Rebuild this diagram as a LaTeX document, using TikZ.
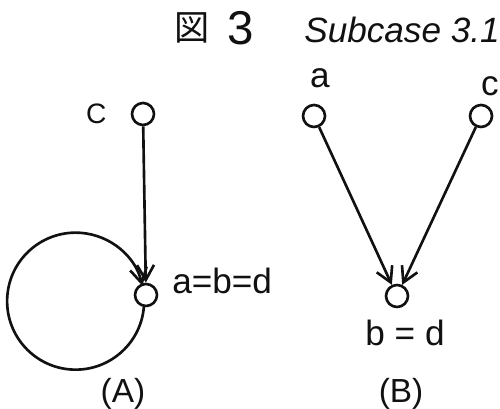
\documentclass[tikz,border=0pt]{standalone}
\usepackage{fontspec}
\setmainfont{Liberation Sans}
\newfontfamily\cjkfont{Noto Sans CJK JP}
\usepackage{tikz}
\usetikzlibrary{arrows.meta,positioning}
\definecolor{ink}{HTML}{111111}
\tikzset{
  vertex/.style={circle,draw=ink,line width=1.5pt,minimum size=0.44cm,
                 inner sep=0pt},
  arrowedge/.style={-{Straight Barb[length=3mm,width=3.4mm]},line width=1.5pt,
                    ink},
  lbl/.style={font=\fontsize{20}{22}\selectfont,text=ink,inner sep=0pt},
}

\begin{document}
\begin{tikzpicture}
  \useasboundingbox(0,0)rectangle(10,8.18);
  \node[lbl,font=\cjkfont\fontsize{20}{22}\selectfont](fig)at(3.84,7.62){図};
  \node[lbl,font=\fontsize{27}{29}\selectfont](num)at(4.82,7.62){3};
  \node[lbl,font=\itshape\fontsize{20}{22}\selectfont](sub)at(8.04,7.58)
    {Subcase 3.1};
  % (A)
  \node[vertex](cA)at(2.86,5.90){};
  \node[vertex](abd)at(2.92,2.28){};
  \node[lbl,font=\fontsize{16}{18}\selectfont,left=0.48cm of cA](lc){C};
  \node[lbl,anchor=west](leq)at(3.44,2.56){a=b=d};
  \draw[arrowedge](cA)--(abd);
  \draw[arrowedge](abd.-100)arc[start angle=-5,end angle=-347,radius=1.37];
  \node[lbl,font=\fontsize{19}{21}\selectfont](capA)at(2.46,0.30){(A)};
  % (B)
  \node[vertex](aB)at(6.28,5.86){};
  \node[vertex](cB)at(9.62,5.86){};
  \node[vertex](bd)at(7.94,2.26){};
  \node[lbl,above=0.3cm of aB,xshift=0.12cm](la){a};
  \node[lbl](lcB)at(9.80,6.46){c};
  \node[lbl,below=0.23cm of bd,xshift=0.16cm](lbd){b = d};
  \foreach \src in {aB,cB}{
    \draw[arrowedge](\src)--(bd);
  }
  \node[lbl,font=\fontsize{19}{21}\selectfont](capB)at(8.02,0.30){(B)};
\end{tikzpicture}
\end{document}
